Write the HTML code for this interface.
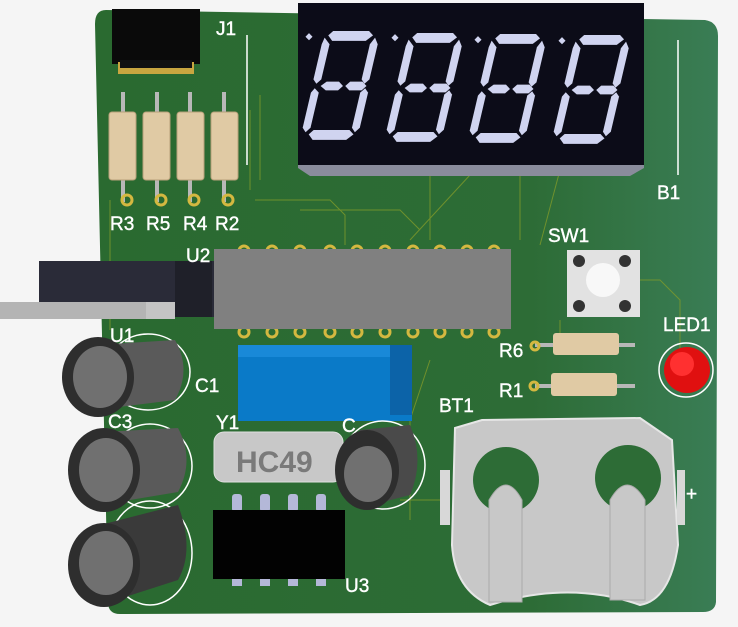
<!DOCTYPE html>
<html><head><style>
body{margin:0;background:#f5f5f5;width:738px;height:622px;overflow:hidden;font-family:"Liberation Sans",sans-serif}
svg text{font-family:"Liberation Sans",sans-serif;fill:#fff;font-size:19px;stroke:#fff;stroke-width:0.4}
</style></head><body>
<svg width="738" height="622" viewBox="0 0 738 622">
<defs>
<linearGradient id="bd" x1="0" x2="1"><stop offset="0" stop-color="#2a6a30"/><stop offset="0.7" stop-color="#2d6c36"/><stop offset="1" stop-color="#3a7d55"/></linearGradient>
<g id="dig" fill="#d0d4f0">
<polygon points="10,0 42,0 46,4 40,9 10,9 6,4"/>
<polygon points="3,6 8,12 4,44 0,48 -3,44 1,12"/>
<polygon points="48,6 51,12 47,44 43,48 40,44 44,12"/>
<polygon points="4,50 9,46 20,46 24,50 20,54 9,54"/>
<polygon points="26,50 30,46 41,46 45,50 41,54 30,54"/>
<polygon points="-1,52 3,56 -1,88 -5,92 -8,88 -4,56"/>
<polygon points="44,52 47,56 43,88 39,92 36,88 40,56"/>
<polygon points="-2,94 2,90 34,90 38,94 32,99 2,99"/>
</g>
</defs>
<path d="M106 10 L705 20 Q718 22 718 36 L716 602 Q715 612 703 612 L120 614 Q108 614 108 602 L95 24 Q95 10 106 10Z" fill="url(#bd)"/>
<g stroke="#7f9a2a" stroke-width="1" fill="none" opacity="0.8">
<path d="M250 190 L250 110 M255 200 L330 200 L345 215 L345 245 M430 170 L430 240 M470 175 L410 240 M520 170 L520 240 M560 170 L540 245 M610 280 L660 280 L680 300 L680 360 M430 360 L410 420 L410 520 M400 500 L440 500 M300 210 L400 210 L420 230 M110 200 L110 330 M560 320 L560 340 M260 95 L260 180"/>
</g>
<!-- display -->
<polygon points="298,160 644,160 644,168 630,176 310,176 298,168" fill="#8a8c9c"/>
<rect x="298" y="3" width="346" height="162" fill="#0c0c18"/>
<g transform="translate(322,31) scale(1.12,1.1) skewX(-6)"><use href="#dig"/></g>
<g transform="translate(406,33) scale(1.12,1.1) skewX(-6)"><use href="#dig"/></g>
<g transform="translate(489,34) scale(1.12,1.1) skewX(-6)"><use href="#dig"/></g>
<g transform="translate(573,35) scale(1.12,1.1) skewX(-6)"><use href="#dig"/></g>
<g fill="#d0d4f0"><rect x="307" y="34" width="5" height="5" transform="rotate(45 309 36)"/><rect x="393" y="35" width="5" height="5" transform="rotate(45 395 37)"/><rect x="476" y="37" width="5" height="5" transform="rotate(45 478 39)"/><rect x="560" y="38" width="5" height="5" transform="rotate(45 562 40)"/></g>
<line x1="678" y1="40" x2="678" y2="175" stroke="#fff" stroke-width="1.5"/>
<line x1="247" y1="35" x2="247" y2="165" stroke="#fff" stroke-width="1.5"/>
<!-- J1 -->
<rect x="112" y="9" width="88" height="55" fill="#0a0a0a"/>
<rect x="118" y="62" width="76" height="12" fill="#c9a640"/>
<rect x="120" y="60" width="72" height="8" fill="#111"/>
<!-- resistors vertical -->
<g>
<g fill="#b8b8b8"><rect x="121" y="92" width="4" height="110"/><rect x="155" y="92" width="4" height="110"/><rect x="188" y="92" width="4" height="110"/><rect x="222" y="92" width="4" height="110"/></g>
<g fill="#e0caa4" stroke="#b8a07a"><rect x="109" y="112" width="27" height="68" rx="3"/><rect x="143" y="112" width="27" height="68" rx="3"/><rect x="177" y="112" width="27" height="68" rx="3"/><rect x="211" y="112" width="27" height="68" rx="3"/></g>
<g fill="none" stroke="#d4b840" stroke-width="3"><circle cx="127" cy="200" r="5"/><circle cx="161" cy="200" r="5"/><circle cx="194" cy="200" r="5"/><circle cx="228" cy="200" r="5"/></g>
</g>
<!-- U2 pins -->
<g fill="none" stroke="#d4b840" stroke-width="3">
<circle cx="244" cy="251" r="5"/><circle cx="272" cy="251" r="5"/><circle cx="300" cy="251" r="5"/><circle cx="330" cy="251" r="5"/><circle cx="357" cy="251" r="5"/><circle cx="385" cy="251" r="5"/><circle cx="413" cy="251" r="5"/><circle cx="440" cy="251" r="5"/><circle cx="467" cy="251" r="5"/><circle cx="494" cy="251" r="5"/>
<circle cx="244" cy="332" r="5"/><circle cx="272" cy="332" r="5"/><circle cx="300" cy="332" r="5"/><circle cx="330" cy="332" r="5"/><circle cx="357" cy="332" r="5"/><circle cx="385" cy="332" r="5"/><circle cx="413" cy="332" r="5"/><circle cx="440" cy="332" r="5"/><circle cx="467" cy="332" r="5"/><circle cx="494" cy="332" r="5"/>
</g>
<rect x="214" y="249" width="297" height="80" fill="#808080"/>
<!-- regulator -->
<rect x="39" y="261" width="175" height="56" fill="#2a2b38"/>
<rect x="175" y="261" width="37" height="56" fill="#1f2029"/>
<rect x="0" y="302" width="175" height="17" fill="#c4c4c4"/>
<rect x="0" y="302" width="146" height="17" fill="#b4b4b4"/>
<!-- blue box -->
<rect x="238" y="350" width="174" height="71" fill="#0a7ac8"/>
<rect x="238" y="345" width="160" height="12" fill="#1989d8"/>
<rect x="390" y="345" width="22" height="70" fill="#0c63a8"/>
<!-- HC49 -->
<rect x="214" y="432" width="129" height="50" rx="10" fill="#c8c8c8" stroke="#e0e0e0"/>
<text x="236" y="472" style="fill:#7a7a7a;stroke:none;font-size:30px;font-weight:bold">HC49</text>
<!-- U3 -->
<g fill="#b4b8d8"><rect x="232" y="494" width="10" height="18" rx="3"/><rect x="260" y="494" width="10" height="18" rx="3"/><rect x="288" y="494" width="10" height="18" rx="3"/><rect x="316" y="494" width="10" height="18" rx="3"/>
<rect x="232" y="576" width="10" height="10"/><rect x="260" y="576" width="10" height="10"/><rect x="288" y="576" width="10" height="10"/><rect x="316" y="576" width="10" height="10"/></g>
<rect x="213" y="510" width="132" height="69" fill="#020202"/>
<!-- caps -->
<g>
<ellipse cx="148" cy="372" rx="42" ry="38" fill="none" stroke="#fff" stroke-width="1.5"/>
<path d="M95 345 L175 340 Q192 370 175 400 L95 410Z" fill="#5a5a5a"/>
<ellipse cx="98" cy="377" rx="36" ry="40" fill="#2e2e2e"/><ellipse cx="100" cy="377" rx="27" ry="31" fill="#707070"/>
<ellipse cx="150" cy="466" rx="42" ry="42" fill="none" stroke="#fff" stroke-width="1.5"/>
<path d="M100 432 L178 428 Q195 460 178 492 L100 505Z" fill="#5a5a5a"/>
<ellipse cx="104" cy="470" rx="36" ry="42" fill="#2e2e2e"/><ellipse cx="106" cy="470" rx="27" ry="32" fill="#707070"/>
<ellipse cx="150" cy="553" rx="42" ry="52" fill="none" stroke="#fff" stroke-width="1.5"/>
<path d="M100 525 L178 505 Q195 550 178 580 L100 605Z" fill="#3a3a3a"/>
<ellipse cx="104" cy="565" rx="36" ry="42" fill="#2e2e2e"/><ellipse cx="106" cy="563" rx="27" ry="32" fill="#707070"/>
<ellipse cx="383" cy="465" rx="42" ry="44" fill="none" stroke="#fff" stroke-width="1.5"/>
<path d="M360 430 L410 425 Q425 460 410 495 L360 508Z" fill="#4a4a4a"/>
<ellipse cx="367" cy="470" rx="32" ry="40" fill="#2e2e2e"/><ellipse cx="368" cy="474" rx="24" ry="28" fill="#707070"/>
</g>
<!-- SW1 -->
<rect x="567" y="250" width="73" height="67" fill="#e2e2e2"/>
<circle cx="603" cy="280" r="17" fill="#f8f8f8"/>
<g fill="#333"><circle cx="579" cy="261" r="6"/><circle cx="625" cy="261" r="6"/><circle cx="579" cy="306" r="6"/><circle cx="625" cy="306" r="6"/></g>
<!-- R6 R1 -->
<rect x="535" y="343" width="100" height="4" fill="#b8b8b8"/>
<rect x="535" y="384" width="100" height="4" fill="#b8b8b8"/>
<rect x="553" y="333" width="66" height="22" rx="3" fill="#e0caa4"/>
<rect x="551" y="373" width="66" height="23" rx="3" fill="#e0caa4"/>
<g fill="none" stroke="#d4b840" stroke-width="3"><circle cx="535" cy="346" r="4"/><circle cx="534" cy="386" r="4"/></g>
<!-- LED -->
<circle cx="686" cy="370" r="27" fill="none" stroke="#fff" stroke-width="1.5"/>
<circle cx="687" cy="370" r="23" fill="#e01010"/>
<circle cx="682" cy="364" r="12" fill="#ff3030"/>
<!-- battery holder -->
<path d="M455 428 L482 420 L640 418 L672 440 L678 545 Q670 600 640 605 Q570 580 490 605 Q455 590 452 545Z" fill="#c8c8c8" stroke="#e6e6e6" stroke-width="2"/>
<rect x="440" y="470" width="10" height="55" fill="#d8d8d8"/><rect x="677" y="470" width="8" height="55" fill="#d8d8d8"/>
<circle cx="506" cy="480" r="33" fill="#2d6c36"/><circle cx="628" cy="478" r="33" fill="#2d6c36"/>
<path d="M489 602 L489 500 Q506 470 522 500 L522 602Z" fill="#c8c8c8" stroke="#aaa"/>
<path d="M610 600 L610 500 Q627 470 645 500 L645 600Z" fill="#c8c8c8" stroke="#aaa"/>
<!-- labels -->
<text x="216" y="35">J1</text><text x="657" y="199">B1</text>
<text x="110" y="230">R3</text><text x="146" y="230">R5</text><text x="183" y="230">R4</text><text x="215" y="230">R2</text>
<text x="548" y="242">SW1</text><text x="186" y="262">U2</text><text x="110" y="342">U1</text>
<text x="195" y="392">C1</text><text x="108" y="428">C3</text><text x="216" y="429">Y1</text><text x="342" y="432">C</text>
<text x="663" y="331">LED1</text><text x="499" y="357">R6</text><text x="499" y="397">R1</text><text x="439" y="412">BT1</text>
<text x="345" y="592">U3</text><text x="686" y="500">+</text>
</svg>
</body></html>
